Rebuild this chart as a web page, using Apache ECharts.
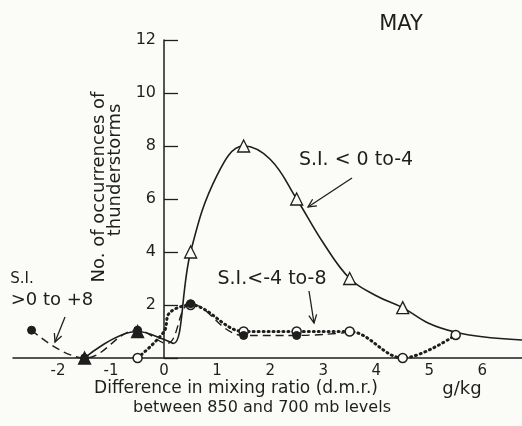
<!DOCTYPE html>
<html>
<head>
<meta charset="utf-8">
<script src="https://cdn.jsdelivr.net/npm/echarts@6/dist/echarts.min.js"></script>
<style>
  html, body { margin: 0; padding: 0; background: #fbfbf8; }
  #chart { width: 522px; height: 426px; }
</style>
</head>
<body>
<div id="chart"></div>
<script>
const lowX = [-1.5, -0.5, 0, 0.18, 0.5, 1.0, 1.5, 2.0, 2.5, 3.0, 3.5, 4.0, 4.5, 5.0, 5.5, 6.0, 6.75];
const lowY = [0, 1.0, 0.7, 0.55, 4.0, 6.9, 8.0, 7.5, 6.0, 4.35, 3.0, 2.35, 1.9, 1.3, 0.97, 0.8, 0.68];
const lowMark = [2, 2, 0, 0, 1, 0, 1, 0, 1, 0, 1, 0, 1, 0, 0, 0, 0]; // 2 = dark marker

// S.I. < -4 to -8 (dotted, open circles)
const midX = [-0.5, 0, 0.1, 0.5, 1.5, 2.5, 3.5, 4.5, 5.5];
const midY = [0, 1.0, 1.7, 2.0, 1.0, 1.0, 1.0, 0, 0.87];
const midMark = [1, 0, 0, 1, 1, 1, 1, 1, 1];

// S.I. > 0 to +8 (dashed, filled dots)
const highX = [-2.5, -1.5, -0.5, 0.05, 0.5, 1.5, 2.5, 3.4];
const highY = [1.05, 0, 1.05, 0.55, 2.05, 0.85, 0.85, 0.95];
const highMark = [1, 1, 1, 0, 1, 1, 1, 0];

const yTicks = [2, 4, 6, 8, 10, 12];

const ink = '#1e1e1e';
const paper = '#fbfbf8';
const font = 'DejaVu Sans';

function pts(xs, ys, marks) {
  return xs.map((x, i) => {
    if (!marks[i]) return { value: [x, ys[i]], symbol: 'none' };
    if (marks[i] === 2) return { value: [x, ys[i]], itemStyle: { color: ink } };
    return [x, ys[i]];
  });
}

function arrow(x1, y1, x2, y2) {
  const a = Math.atan2(y2 - y1, x2 - x1);
  const L = 9, w = 0.45;
  return {
    type: 'group',
    children: [
      { type: 'line', shape: { x1, y1, x2, y2 }, style: { stroke: ink, lineWidth: 1.3 } },
      { type: 'polyline', shape: { points: [
          [x2 - L * Math.cos(a - w), y2 - L * Math.sin(a - w)],
          [x2, y2],
          [x2 - L * Math.cos(a + w), y2 - L * Math.sin(a + w)]
        ] }, style: { stroke: ink, lineWidth: 1.3, fill: null } }
    ]
  };
}

function txt(x, y, text, size, extra) {
  return Object.assign({
    type: 'text', x, y,
    style: { text, fill: ink, font: size + 'px "' + font + '"', textAlign: 'center', textVerticalAlign: 'middle' }
  }, extra || {});
}

const chart = echarts.init(document.getElementById('chart'));
chart.setOption({
  backgroundColor: paper,
  animation: false,
  grid: { left: 13, right: 0, top: 40, bottom: 68, containLabel: false, outerBoundsMode: 'none' },
  xAxis: {
    type: 'value',
    min: -2.85, max: 6.75,
    minInterval: 1, maxInterval: 1,
    axisLine: { lineStyle: { color: ink, width: 1.5 } },
    axisTick: { show: false },
    splitLine: { show: false },
    axisLabel: {
      margin: 6, color: ink, fontSize: 15, fontFamily: font,
      formatter: v => Number.isInteger(v) ? String(v) : ''
    }
  },
  yAxis: {
    type: 'value',
    min: 0, max: 12, interval: 2,
    offset: -151,
    axisLine: { onZero: false, lineStyle: { color: ink, width: 1.5 } },
    axisTick: { inside: true, length: 14, lineStyle: { color: ink, width: 1.3 } },
    splitLine: { show: false },
    axisLabel: {
      margin: 8, color: ink, fontSize: 16, fontFamily: font,
      formatter: v => yTicks.includes(v) ? String(v) : ''
    }
  },
  series: [
    {
      name: 'S.I. < 0 to -4', type: 'line', smooth: 0.4,
      data: pts(lowX, lowY, lowMark),
      symbol: 'triangle', symbolSize: 12,
      lineStyle: { color: ink, width: 1.6 },
      itemStyle: { color: paper, borderColor: ink, borderWidth: 1.3 },
      z: 3
    },
    {
      name: 'S.I. < -4 to -8', type: 'line', smooth: 0.35,
      data: pts(midX, midY, midMark),
      symbol: 'circle', symbolSize: 9,
      lineStyle: { color: ink, width: 3, type: [1, 4], cap: 'round' },
      itemStyle: { color: paper, borderColor: ink, borderWidth: 1.5 },
      z: 4
    },
    {
      name: 'S.I. > 0 to +8', type: 'line', smooth: 0.4,
      data: pts(highX, highY, highMark),
      symbol: 'circle', symbolSize: 8,
      lineStyle: { color: ink, width: 1.4, type: [8, 5] },
      itemStyle: { color: ink, borderColor: ink },
      z: 5
    }
  ],
  graphic: [
    txt(401, 25, 'MAY', 21),
    txt(356, 160, 'S.I. < 0 to-4', 19),
    arrow(352, 178, 308, 207),
    txt(272, 279, 'S.I.<-4 to-8', 19),
    arrow(309, 291, 314, 323),
    txt(22, 279, 'S.I.', 15),
    txt(52, 300, '>0 to +8', 18),
    arrow(65, 317, 55, 342),
    txt(99, 187, 'No. of occurrences of', 18, { rotation: Math.PI / 2 }),
    txt(115, 170, 'thunderstorms', 18, { rotation: Math.PI / 2 }),
    txt(236, 389, 'Difference in mixing ratio (d.m.r.)', 17),
    txt(462, 389, 'g/kg', 18),
    txt(262, 408, 'between 850 and 700 mb levels', 16)
  ]
});
</script>
</body>
</html>
